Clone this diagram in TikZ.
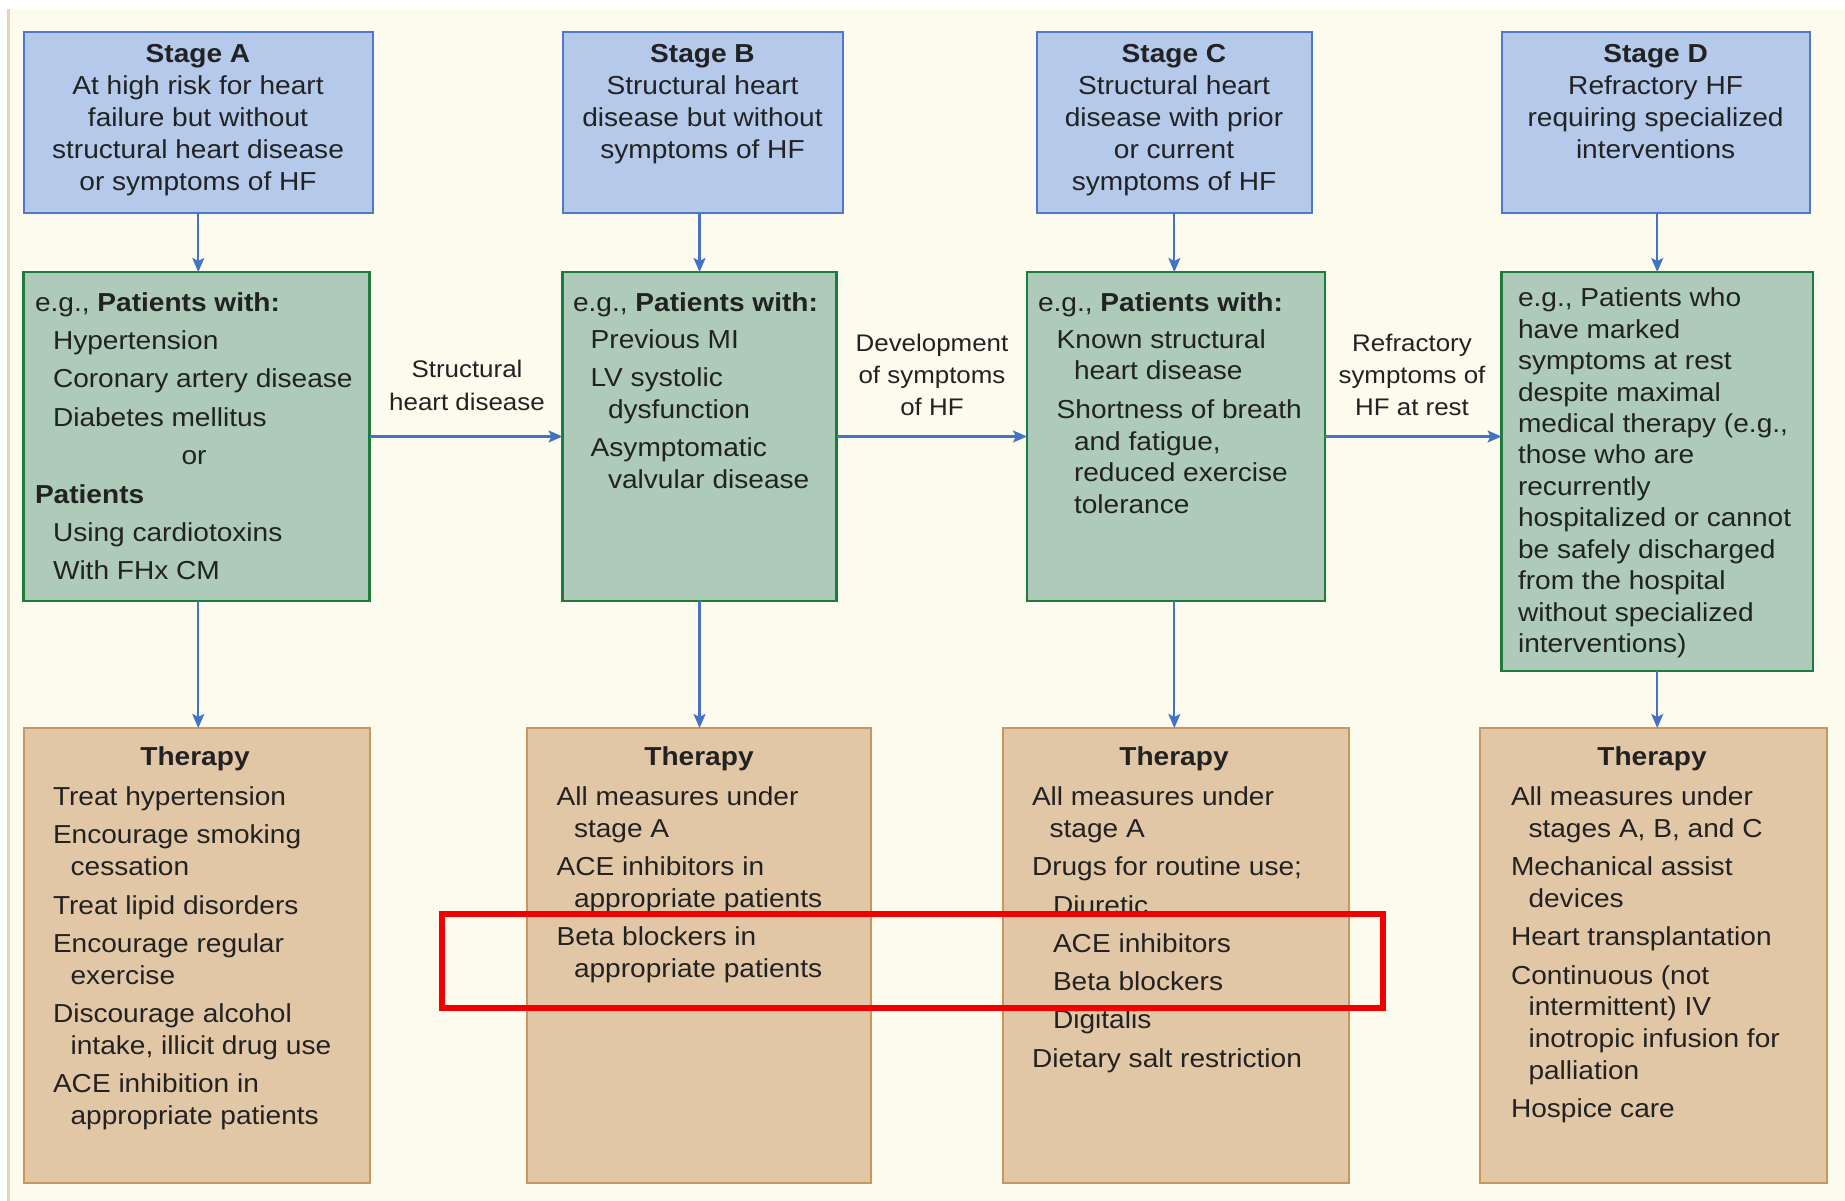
\documentclass[tikz,border=0pt]{standalone}
\usepackage{fontspec}
\setmainfont{Liberation Sans}[FakeStretch=1.08]
\usetikzlibrary{arrows.meta}
\definecolor{bg}{HTML}{FDFBEE}
\definecolor{lefttan}{HTML}{E8D3B8}
\definecolor{bluefill}{HTML}{B5C9EA}
\definecolor{blueline}{HTML}{4F78C8}
\definecolor{greenfill}{HTML}{ADCBB8}
\definecolor{greenline}{HTML}{1E7B3C}
\definecolor{tanfill}{HTML}{E2C7A7}
\definecolor{tanline}{HTML}{C9965E}
\definecolor{arrowblue}{HTML}{4472C4}
\definecolor{txtcol}{HTML}{222222}
\definecolor{hlred}{HTML}{F20000}
\begin{document}
\begin{tikzpicture}[x=1pt,y=-1pt,
  boxbase/.style={anchor=north west, inner sep=0pt, outer sep=0pt},
  bluebox/.style={boxbase, fill=bluefill, draw=blueline, line width=2pt},
  greenbox/.style={boxbase, fill=greenfill, draw=greenline, line width=2.5pt},
  tanbox/.style={boxbase, fill=tanfill, draw=tanline, line width=2pt},
  txt/.style={inner sep=0pt, outer sep=0pt, text=txtcol, font=\fontsize{26}{31.8}\selectfont},
  labtxt/.style={inner sep=0pt, outer sep=0pt, text=txtcol, font=\fontsize{24}{31.8}\selectfont},
  conn/.style={draw=arrowblue, line width=2.2pt, -{Stealth[length=14pt,width=12pt,inset=3pt]}},
  hlbox/.style={boxbase, draw=hlred, line width=6pt}
]
\useasboundingbox (0,0) rectangle (1845,1201);
\fill[white] (0,0) rectangle (1845,1201);
\fill[bg] (9.5,9) rectangle (1845,1201);
\fill[lefttan] (7,9) rectangle (9.5,1201);

% Stage boxes
\node[bluebox, minimum width=349.5pt, minimum height=181pt] (sA) at (23.5,32) {};
\node[bluebox, minimum width=280pt, minimum height=181pt] (sB) at (562.5,32) {};
\node[bluebox, minimum width=275.3pt, minimum height=181pt] (sC) at (1036.7,32) {};
\node[bluebox, minimum width=308.5pt, minimum height=181pt] (sD) at (1501.5,32) {};

% Green boxes
\node[greenbox, minimum width=346pt, minimum height=329pt] (gA) at (23.5,272) {};
\node[greenbox, minimum width=274.1pt, minimum height=329pt] (gB) at (562.5,272) {};
\node[greenbox, minimum width=298pt, minimum height=329pt] (gC) at (1027,272) {};
\node[greenbox, minimum width=311.5pt, minimum height=399pt] (gD) at (1501.5,272) {};

% Therapy boxes
\node[tanbox, minimum width=346pt, minimum height=455pt] (tA) at (23.5,728) {};
\node[tanbox, minimum width=344pt, minimum height=455pt] (tB) at (527,728) {};
\node[tanbox, minimum width=346pt, minimum height=455pt] (tC) at (1002.5,728) {};
\node[tanbox, minimum width=347pt, minimum height=455pt] (tD) at (1480,728) {};

% Stage texts
\node[txt, anchor=base] (sAt) at (198,63) {\parbox[t]{340pt}{\centering\textbf{Stage A}\\At high risk for heart\\failure but without\\structural heart disease\\or symptoms of HF}};
\node[txt, anchor=base] (sBt) at (702.5,63) {\parbox[t]{270pt}{\centering\textbf{Stage B}\\Structural heart\\disease but without\\symptoms of HF}};
\node[txt, anchor=base] (sCt) at (1174,63) {\parbox[t]{270pt}{\centering\textbf{Stage C}\\Structural heart\\disease with prior\\or current\\symptoms of HF}};
\node[txt, anchor=base] (sDt) at (1655.6,63) {\parbox[t]{300pt}{\centering\textbf{Stage D}\\Refractory HF\\requiring specialized\\interventions}};

% Green texts
\node[txt, anchor=base west] (gAt) at (35,311) {\parbox[t]{400pt}{\raggedright
e.g., \textbf{Patients with:}\\[6.6pt]
\hspace*{18pt}Hypertension\\[6.6pt]
\hspace*{18pt}Coronary artery disease\\[6.6pt]
\hspace*{18pt}Diabetes mellitus\\[6.6pt]
\makebox[318pt][c]{or}\\[6.6pt]
\textbf{Patients}\\[6.6pt]
\hspace*{18pt}Using cardiotoxins\\[6.6pt]
\hspace*{18pt}With FHx CM}};
\node[txt, anchor=base west] (gBt) at (573,311) {\parbox[t]{400pt}{\raggedright
e.g., \textbf{Patients with:}\\[5.2pt]
\hspace*{17.7pt}Previous MI\\[6.6pt]
\hspace*{17.7pt}LV systolic\\
\hspace*{35pt}dysfunction\\[6.6pt]
\hspace*{17.7pt}Asymptomatic\\
\hspace*{35pt}valvular disease}};
\node[txt, anchor=base west] (gCt) at (1038,311) {\parbox[t]{400pt}{\raggedright
e.g., \textbf{Patients with:}\\[5.2pt]
\hspace*{18.7pt}Known structural\\
\hspace*{36pt}heart disease\\[6.6pt]
\hspace*{18.7pt}Shortness of breath\\
\hspace*{36pt}and fatigue,\\
\hspace*{36pt}reduced exercise\\
\hspace*{36pt}tolerance}};
\node[txt, anchor=base west, font=\fontsize{26}{31.45}\selectfont] (gDt) at (1518,306.7) {\parbox[t]{400pt}{\raggedright
e.g., Patients who\\have marked\\symptoms at rest\\despite maximal\\medical therapy (e.g.,\\those who are\\recurrently\\hospitalized or cannot\\be safely discharged\\from the hospital\\without specialized\\interventions)}};

% Therapy headings
\node[txt, anchor=base] (tAh) at (195,765.6) {\textbf{Therapy}};
\node[txt, anchor=base] (tBh) at (699,765.6) {\textbf{Therapy}};
\node[txt, anchor=base] (tCh) at (1174,765.6) {\textbf{Therapy}};
\node[txt, anchor=base] (tDh) at (1652,765.6) {\textbf{Therapy}};

% Therapy texts
\node[txt, anchor=base west] (tAt) at (53,805.6) {\parbox[t]{400pt}{\raggedright
Treat hypertension\\[6.5pt]
Encourage smoking\\
\hspace*{17.6pt}cessation\\[6.5pt]
Treat lipid disorders\\[6.5pt]
Encourage regular\\
\hspace*{17.6pt}exercise\\[6.5pt]
Discourage alcohol\\
\hspace*{17.6pt}intake, illicit drug use\\[6.5pt]
ACE inhibition in\\
\hspace*{17.6pt}appropriate patients}};
\node[txt, anchor=base west] (tBt) at (556.6,805.6) {\parbox[t]{400pt}{\raggedright
All measures under\\
\hspace*{17.4pt}stage A\\[6.5pt]
ACE inhibitors in\\
\hspace*{17.4pt}appropriate patients\\[6.5pt]
Beta blockers in\\
\hspace*{17.4pt}appropriate patients}};
\node[txt, anchor=base west] (tCt) at (1032,805.6) {\parbox[t]{400pt}{\raggedright
All measures under\\
\hspace*{17.6pt}stage A\\[6.5pt]
Drugs for routine use;\\[6.5pt]
\hspace*{21pt}Diuretic\\[6.5pt]
\hspace*{21pt}ACE inhibitors\\[6.5pt]
\hspace*{21pt}Beta blockers\\[6.5pt]
\hspace*{21pt}Digitalis\\[6.5pt]
Dietary salt restriction}};
\node[txt, anchor=base west] (tDt) at (1511,805.6) {\parbox[t]{400pt}{\raggedright
All measures under\\
\hspace*{17.5pt}stages A, B, and C\\[6.5pt]
Mechanical assist\\
\hspace*{17.5pt}devices\\[6.5pt]
Heart transplantation\\[6.5pt]
Continuous (not\\
\hspace*{17.5pt}intermittent) IV\\
\hspace*{17.5pt}inotropic infusion for\\
\hspace*{17.5pt}palliation\\[6.5pt]
Hospice care}};

% Connector labels
\node[labtxt, anchor=base, font=\fontsize{24}{33}\selectfont] (lab1) at (467,377) {\parbox[t]{200pt}{\centering Structural\\heart disease}};
\node[labtxt, anchor=base] (lab2) at (932,351.4) {\parbox[t]{200pt}{\centering Development\\of symptoms\\of HF}};
\node[labtxt, anchor=base] (lab3) at (1412,351.4) {\parbox[t]{200pt}{\centering Refractory\\symptoms of\\HF at rest}};

% Vertical connectors
\draw[conn] (sA.south) -- (sA.south |- gA.north);
\draw[conn] (gB.north |- sB.south) -- (gB.north);
\draw[conn] (sC.south) -- (sC.south |- gC.north);
\draw[conn] (gD.north |- sD.south) -- (gD.north);
\draw[conn] (sA.south |- gA.south) -- (sA.south |- tA.north);
\draw[conn] (gB.south) -- (gB.south |- tB.north);
\draw[conn] (sC.south |- gC.south) -- (sC.south |- tC.north);
\draw[conn] (gD.south) -- (gD.south |- tD.north);

% Horizontal connectors
\draw[conn] (gA.east) -- (gA.east -| gB.west);
\draw[conn] (gB.east) -- (gB.east -| gC.west);
\draw[conn] (gC.east) -- (gC.east -| gD.west);

% Highlight
\node[hlbox, minimum width=940.2pt, minimum height=94.1pt] (hl) at (442.4,914.3) {};
\end{tikzpicture}
\end{document}
